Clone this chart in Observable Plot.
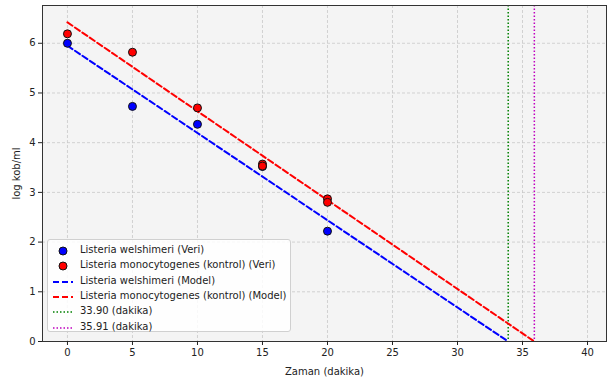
<!DOCTYPE html>
<html>
<head>
<meta charset="utf-8">
<script src="https://cdn.jsdelivr.net/npm/d3@7"></script>
<script src="https://cdn.jsdelivr.net/npm/@observablehq/plot@0.6"></script>
<style>
  html, body { margin: 0; padding: 0; background: #fff; }
  #wrap { position: relative; width: 609px; height: 378px; font-family: "DejaVu Sans", sans-serif; }
  #legend { position: absolute; left: 47px; top: 239px; width: 244px; height: 93px;
    background: rgba(255,255,255,0.85); border: 1px solid #d0d0d0; border-radius: 3px; box-sizing: border-box;
    font-size: 10px; color: #222; }
  .row { position: absolute; left: 0; height: 15px; width: 100%; }
  .row svg { position: absolute; left: 3px; top: 0; }
  .row span { position: absolute; left: 32px; top: 1px; white-space: nowrap; }
</style>
</head>
<body>
<div id="wrap"></div>
<script>
// Data
const times = [0, 5, 10, 15, 20];
const welshimeriVeri = [6.00, 4.73, 4.37, 3.52, 2.22];
const monoTimes = [0, 5, 10, 15, 15, 20, 20];
const monoVeri = [6.19, 5.82, 4.70, 3.57, 3.53, 2.87, 2.80];
const welshimeriModelX = [0, 33.90];
const welshimeriModelY = [5.95, 0];
const monoModelX = [0, 35.91];
const monoModelY = [6.42, 0];
const cutoffs = [33.90, 35.91];
const cutoffLabels = ["33.90 (dakika)", "35.91 (dakika)"];
const seriesLabels = [
  "Listeria welshimeri (Veri)",
  "Listeria monocytogenes (kontrol) (Veri)",
  "Listeria welshimeri (Model)",
  "Listeria monocytogenes (kontrol) (Model)"
];
const xTicks = [0, 5, 10, 15, 20, 25, 30, 35, 40];
const yTicks = [0, 1, 2, 3, 4, 5, 6];

const blueVeri = times.map((t, i) => ({x: t, y: welshimeriVeri[i]}));
const redVeri = monoTimes.map((t, i) => ({x: t, y: monoVeri[i]}));
const blueModel = welshimeriModelX.map((x, i) => ({x, y: welshimeriModelY[i]}));
const redModel = monoModelX.map((x, i) => ({x, y: monoModelY[i]}));
const cutoffColors = ["green", "#bf00bf"];

const chart = Plot.plot({
  width: 609,
  height: 378,
  marginLeft: 42,
  marginRight: 3,
  marginTop: 5,
  marginBottom: 37,
  style: {fontFamily: "DejaVu Sans, sans-serif", fontSize: "10px", color: "#222", background: "transparent"},
  x: {domain: [-1.92, 41.46], ticks: xTicks},
  y: {domain: [0, 6.76], ticks: yTicks},
  marks: [
    Plot.frame({fill: "#f4f4f4", stroke: null}),
    Plot.gridX(xTicks, {stroke: "#c8c8c8", strokeOpacity: 0.8, strokeDasharray: "3,2"}),
    Plot.gridY(yTicks, {stroke: "#c8c8c8", strokeOpacity: 0.8, strokeDasharray: "3,2"}),
    Plot.ruleY([0], {stroke: "#444", strokeWidth: 1, strokeDasharray: "6,2,1.5,2"}),
    Plot.ruleX(cutoffs, {x: d => d, stroke: (d, i) => cutoffColors[i], strokeWidth: 1.5, strokeDasharray: "1.5,2"}),
    Plot.line(blueModel, {x: "x", y: "y", stroke: "blue", strokeWidth: 2, strokeDasharray: "6,3"}),
    Plot.line(redModel, {x: "x", y: "y", stroke: "red", strokeWidth: 2, strokeDasharray: "6,3"}),
    Plot.dot(blueVeri, {x: "x", y: "y", r: 4, fill: "blue", stroke: "#111", strokeWidth: 1}),
    Plot.dot(redVeri, {x: "x", y: "y", r: 4, fill: "red", stroke: "#111", strokeWidth: 1}),
    Plot.frame({stroke: "#333", strokeWidth: 1}),
    Plot.axisX(xTicks, {tickSize: 4, tickPadding: 3, fontSize: 10, tickFormat: d3.format("d"), label: "Zaman (dakika)", labelAnchor: "center", labelOffset: 33, labelArrow: "none"}),
    Plot.axisY(yTicks, {tickSize: 4, tickPadding: 3, fontSize: 10, tickFormat: d3.format("d"), label: "log kob/ml", labelAnchor: "center", labelOffset: 30, labelArrow: "none"})
  ]
});
const wrap = document.getElementById("wrap");
wrap.appendChild(chart);

// Legend
const legend = document.createElement("div");
legend.id = "legend";
const entries = [
  {label: seriesLabels[0], kind: "dot", color: "blue"},
  {label: seriesLabels[1], kind: "dot", color: "red"},
  {label: seriesLabels[2], kind: "dash", color: "blue"},
  {label: seriesLabels[3], kind: "dash", color: "red"},
  {label: cutoffLabels[0], kind: "dot-line", color: cutoffColors[0]},
  {label: cutoffLabels[1], kind: "dot-line", color: cutoffColors[1]}
];
entries.forEach((e, i) => {
  const row = document.createElement("div");
  row.className = "row";
  row.style.top = (3 + i * 15.3) + "px";
  let sw = "";
  if (e.kind === "dot") sw = `<circle cx="12" cy="8" r="4" fill="${e.color}" stroke="#111" stroke-width="1"/>`;
  else if (e.kind === "dash") sw = `<line x1="2" x2="22" y1="8" y2="8" stroke="${e.color}" stroke-width="2" stroke-dasharray="6,3"/>`;
  else sw = `<line x1="2" x2="22" y1="8" y2="8" stroke="${e.color}" stroke-width="1.5" stroke-dasharray="1.5,2"/>`;
  row.innerHTML = `<svg width="26" height="15">${sw}</svg><span>${e.label}</span>`;
  legend.appendChild(row);
});
wrap.appendChild(legend);
</script>
</body>
</html>
